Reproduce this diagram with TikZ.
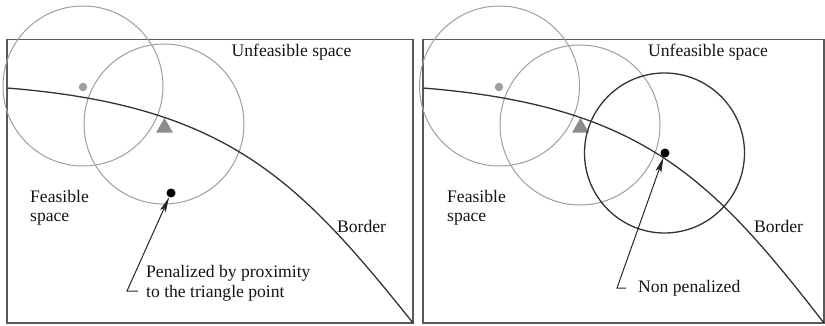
\documentclass[tikz,border=0pt]{standalone}
\usepackage{fontspec}
\setmainfont{Liberation Serif}
\newfontfamily\lblserif{Liberation Serif}
\usetikzlibrary{arrows.meta,shapes.geometric}
\begin{document}
\begin{tikzpicture}[x=1pt,y=-1pt,
  frame/.style={draw=black!65, line width=1.5pt},
  border/.style={draw=black!80, line width=1.3pt},
  gcirc/.style={draw=black!38, line width=1pt},
  bcirc/.style={draw=black!80, line width=1.3pt},
  gdot/.style={circle, fill=black!38, inner sep=0pt, minimum size=8.5pt},
  bdot/.style={circle, fill=black, inner sep=0pt, minimum size=9pt},
  tri/.style={regular polygon, regular polygon sides=3, fill=black!45, inner sep=0pt, minimum size=19.6pt},
  lbl/.style={font=\lblserif\fontsize{17.6}{20}\selectfont, inner sep=0pt, text=black!92},
  pointer/.style={draw=black!85, line width=1pt, -{Stealth[length=15pt,width=6pt,inset=3pt]}}
]
\useasboundingbox (0,0) rectangle (825,326);

% ---------- left panel ----------
\draw[frame] (7,39.5) rectangle (413,323);
\node[gdot] (lg) at (83,87) {};
\node[tri] (lt) at (164.5,127.8) {};
\node[bdot] (lb) at (171,193) {};
\draw[gcirc] (83,86) circle[radius=80];
\draw[gcirc] (164,124) circle[radius=80];
\coordinate (lstart) at (7,88);
\coordinate (lend) at (413,323);
\draw[border] (lstart) .. controls (227,105.6) and (298,179.25) .. (lend);
\node[lbl, anchor=base] (lunf) at (291.5,57) {Unfeasible space};
\node[lbl, anchor=base west, align=left] (lfeas) at (30,222) {Feasible\\space};
\node[lbl, anchor=base west] (lbord) at (337,233) {Border};
\node[lbl, anchor=base west, align=left] (lpen) at (146,297) {Penalized by proximity\\to the triangle point};
\coordinate (ltick) at (138,291);
\coordinate (lcorner) at (127,291);
\draw[pointer] (ltick) -- (lcorner) -- (lb);

% ---------- right panel ----------
\draw[frame] (423,39.5) rectangle (824,323);
\node[gdot] (rg) at (499,87) {};
\node[tri] (rt) at (580.5,127.8) {};
\node[bdot] (rb) at (665,153) {};
\draw[gcirc] (499.5,86) circle[radius=80];
\draw[gcirc] (580,125) circle[radius=80];
\draw[bcirc] (664.5,153) circle[radius=80];
\coordinate (rstart) at (423,88);
\coordinate (rend) at (824,323);
\draw[border] (rstart) .. controls (643,105.6) and (712,179) .. (rend);
\node[lbl, anchor=base] (runf) at (708,57) {Unfeasible space};
\node[lbl, anchor=base west, align=left] (rfeas) at (447,222) {Feasible\\space};
\node[lbl, anchor=base west] (rbord) at (754,233) {Border};
\node[lbl, anchor=base west] (rpen) at (638,292) {Non penalized};
\coordinate (rtick) at (626,288);
\coordinate (rcorner) at (617,288);
\draw[pointer] (rtick) -- (rcorner) -- (rb);
\end{tikzpicture}
\end{document}
